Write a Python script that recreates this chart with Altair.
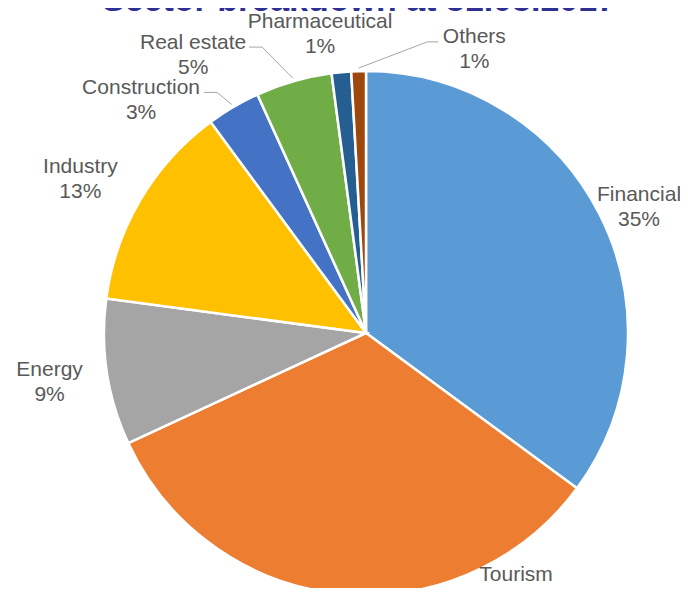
import altair as alt
import pandas as pd
import numpy as np

TITLE = "Sector breakdown at 31.03.2017"
CATEGORIES = ["Financial", "Tourism", "Energy", "Industry", "Construction",
              "Real estate", "Pharmaceutical", "Others"]
VALUES = [35.1, 33.0, 9.0, 12.8, 3.3, 4.7, 1.2, 0.9]
PCT_LABELS = ["35%", "33%", "9%", "13%", "3%", "5%", "1%", "1%"]
COLORS = ["#5B9BD5", "#ED7D31", "#A5A5A5", "#FFC000", "#4472C4",
          "#70AD47", "#255E91", "#9E480E"]

# label placement (polar, measured from the pie centre, degrees clockwise from north)
LABEL_ANGLE = [64.9, 149.3, 261.4, 298.5, 316.2, 328.3, 351.3, 20.8]
LABEL_DIST = [301.5, 294, 320, 325, 325, 329, 303.5, 305]
# leader lines: (start dx, elbow dx) relative to label centre
LEADERS = {"Construction": (63, 76), "Real estate": (56, 69), "Others": (-36, -47)}

W, H = 628, 510
PAD_L, PAD_T = 44, 70
CX, CY = W / 2, H / 2
R = 262
LINE_H = 25
FONT = "Liberation Sans"

df = pd.DataFrame({
    "category": CATEGORIES,
    "value": VALUES,
    "idx": list(range(len(CATEGORIES))),
    "label": [f"{c}\n{p}" for c, p in zip(CATEGORIES, PCT_LABELS)],
})
ang = np.radians(LABEL_ANGLE)
df["lx"] = CX + np.array(LABEL_DIST) * np.sin(ang)
df["ly"] = CY - np.array(LABEL_DIST) * np.cos(ang)
df["ly_first"] = df["ly"] - LINE_H / 2 + 2  # first text line of the two-line label

# leader lines end at the rim of each slice's middle
vals = np.array(VALUES)
cum = np.cumsum(vals) - vals / 2
mid = np.radians(cum / vals.sum() * 360)
rows = []
for i, c in enumerate(CATEGORIES):
    if c in LEADERS:
        s, e = LEADERS[c]
        lx, ly = df.loc[i, "lx"], df.loc[i, "ly"] - 6
        rows.append({"category": c, "pt": 0, "x": lx + s, "y": ly})
        rows.append({"category": c, "pt": 1, "x": lx + e, "y": ly})
        rows.append({"category": c, "pt": 2,
                     "x": CX + 265 * np.sin(mid[i]), "y": CY - 265 * np.cos(mid[i])})
lines = pd.DataFrame(rows)

pie = alt.Chart(df).mark_arc(outerRadius=R, stroke="white", strokeWidth=2.5).encode(
    theta=alt.Theta("value:Q", stack=True),
    color=alt.Color("category:N", scale=alt.Scale(domain=CATEGORIES, range=COLORS), legend=None),
    order=alt.Order("idx:Q"),
)

labels = alt.Chart(df).mark_text(
    font=FONT, fontSize=21, color="#595959", lineBreak="\n", lineHeight=LINE_H,
    align="center", baseline="middle",
).encode(
    x=alt.X("lx:Q", scale=None),
    y=alt.Y("ly_first:Q", scale=None),
    text="label:N",
)

leaders = alt.Chart(lines).mark_line(color="#A6A6A6", strokeWidth=1).encode(
    x=alt.X("x:Q", scale=None),
    y=alt.Y("y:Q", scale=None),
    detail="category:N",
    order="pt:Q",
)

title = alt.Chart(pd.DataFrame({"t": [TITLE]})).mark_text(
    font=FONT, fontSize=34, fontWeight="bold", color="#2E3192",
    align="center", baseline="alphabetic",
).encode(x=alt.value(307), y=alt.value(3 - PAD_T), text="t:N")

chart = alt.layer(pie, leaders, labels, title).properties(
    width=W, height=H,
    padding={"left": PAD_L, "top": PAD_T, "right": 0, "bottom": 0},
    autosize=alt.AutoSizeParams(type="none"),
).configure_view(stroke=None)

chart.save("out.html", embed_options={"renderer": "svg", "actions": False})
